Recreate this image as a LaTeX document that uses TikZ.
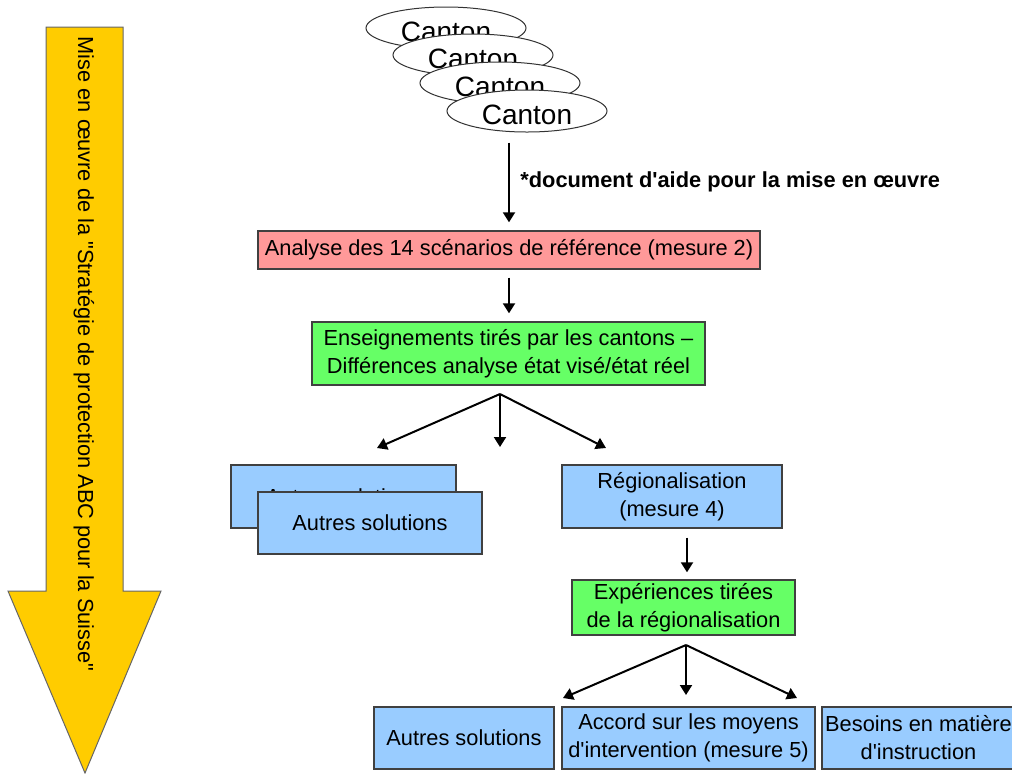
\documentclass[tikz,border=0pt]{standalone}
\usepackage{fontspec}
\newfontfamily\arialfont{Liberation Sans}
\usetikzlibrary{shapes.geometric,arrows.meta}
\definecolor{boxred}{RGB}{255,153,153}
\definecolor{boxgreen}{RGB}{102,255,102}
\definecolor{boxblue}{RGB}{153,204,255}
\definecolor{bigarrow}{RGB}{255,204,0}

\begin{document}
\begin{tikzpicture}[x=0.5pt,y=-0.5pt,
	every node/.style={font=\arialfont\fontsize{10.9}{14}\selectfont},
	box/.style={draw=black!75, line width=0.7pt, align=center, inner sep=0pt},
	canton/.style={ellipse, draw=black!80, line width=0.5pt, fill=white, minimum width=80pt, minimum height=21pt, inner sep=0pt, text height=13.5pt, text depth=0pt, font=\arialfont\fontsize{14}{16}\selectfont},
	arr/.style={-{Triangle[width=6pt,length=5pt]}, line width=1pt}]

				\clip (0,0) rectangle (1012,773);

				\fill[bigarrow, draw=black!60, line width=0.5pt] (46,27) -- (123,27) -- (123,591) -- (161,591) -- (85,773) -- (8,591) -- (46,591) -- cycle;
				\node[rotate=-90] (strategie) at (84,354) {Mise en œuvre de la "Stratégie de protection ABC pour la Suisse"};

				\node[canton] (canton1) at (446,28) {Canton};
				\node[canton] (canton2) at (473,55) {Canton};
				\node[canton] (canton3) at (500,83) {Canton};
				\node[canton] (canton4) at (527,111) {Canton};

				\node[box, fill=boxred, minimum width=251pt, minimum height=19pt] (analyse) at (509,250) {Analyse des 14 scénarios de référence (mesure 2)};
				\node[box, fill=boxgreen, minimum width=196.5pt, minimum height=31.5pt] (enseign) at (508.5,353.5) {Enseignements tirés par les cantons –\\Différences analyse état visé/état réel};

				\node[box, fill=boxblue, minimum width=112.5pt, minimum height=31.5pt] (autresA) at (343.5,496.5) {Autres solutions};
				\node[box, fill=boxblue, minimum width=112pt, minimum height=31pt] (autresB) at (370,523) {Autres solutions};
				\node[box, fill=boxblue, minimum width=110pt, minimum height=31.5pt] (regional) at (672,496.5) {Régionalisation\\(mesure 4)};
				\node[box, fill=boxgreen, minimum width=111.5pt, minimum height=27.5pt] (experiences) at (683.5,607.5) {Expériences tirées\\de la régionalisation};

				\node[box, fill=boxblue, minimum width=90pt, minimum height=31pt] (autresC) at (464,738) {Autres solutions};
				\node[box, fill=boxblue, minimum width=126.5pt, minimum height=31pt] (accord) at (688.5,738) {Accord sur les moyens\\d'intervention (mesure 5)};
				\node[box, fill=boxblue, minimum width=96.5pt, minimum height=31pt] (besoins) at (918.5,738) {Besoins en matière\\d'instruction};

				\node[anchor=base west, inner sep=0pt, font=\arialfont\bfseries\fontsize{10.9}{14}\selectfont] (aide) at (520,187) {*document d'aide pour la mise en œuvre};

				\coordinate (fan1) at (500,394);
				\coordinate (fan1a) at (377,448);
				\coordinate (fan1b) at (500,447);
				\coordinate (fan1c) at (606,448);
				\coordinate (fan2) at (686,645);
				\coordinate (fan2a) at (563,698);
				\coordinate (fan2b) at (686,695);
				\coordinate (fan2c) at (797,698);

				\draw[arr, shorten <=5pt, shorten >=4pt] (canton4.south -| analyse.north) -- (analyse.north);
				\draw[arr, shorten <=4pt, shorten >=4pt] (analyse.south) -- (analyse.south |- enseign.north);

				\draw[arr] (fan1) -- (fan1a);
				\draw[arr] (fan1) -- (fan1b);
				\draw[arr] (fan1) -- (fan1c);

				\draw[arr, shorten <=4.5pt, shorten >=3.5pt] ([xshift=7.5pt]regional.south) -- ([xshift=7.5pt]regional.south |- experiences.north);

				\draw[arr] (fan2) -- (fan2a);
				\draw[arr] (fan2) -- (fan2b);
				\draw[arr] (fan2) -- (fan2c);

			\end{tikzpicture}
\end{document}
